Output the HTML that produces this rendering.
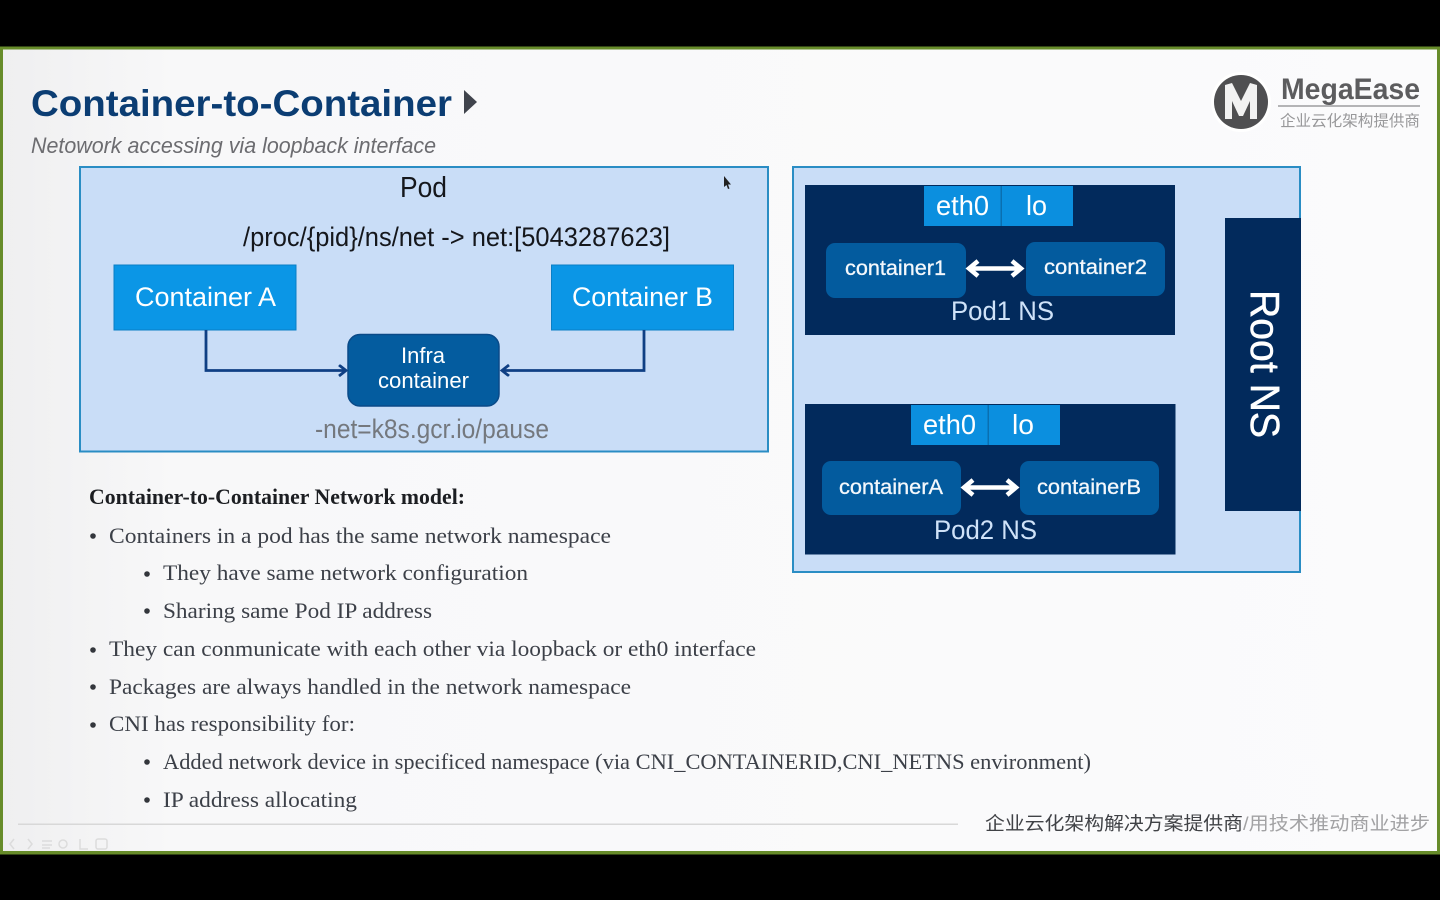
<!DOCTYPE html>
<html><head><meta charset="utf-8"><style>
html,body{margin:0;padding:0;background:#000;width:1440px;height:900px;overflow:hidden}
svg{display:block}
text{font-family:"Liberation Sans","Noto Sans CJK SC",sans-serif}
.b{font-family:"Liberation Serif","DejaVu Serif",serif;font-size:22px;fill:#3c4048}
.w{fill:#fff}
.l{fill:#cfe2f8}
</style></head><body>
<svg width="1440" height="900" viewBox="0 0 1440 900" xmlns="http://www.w3.org/2000/svg">
<defs>
<linearGradient id="bg" x1="0" y1="0" x2="1" y2="0"><stop offset="0" stop-color="#efeff0"/><stop offset=".12" stop-color="#f8f8f9"/><stop offset="1" stop-color="#fbfbfc"/></linearGradient>
<marker id="ah" markerWidth="12" markerHeight="14" refX="9" refY="6" orient="auto" markerUnits="userSpaceOnUse"><path d="M2 0.5L9 6L2 11.5" fill="none" stroke="#0f3f84" stroke-width="2.8"/></marker>
</defs>
<rect width="1440" height="900" fill="#000"/>
<rect x="0" y="46.500" width="1440" height="808" fill="#678c2a"/>
<rect x="3" y="49.500" width="1434" height="801.500" fill="url(#bg)"/>
<text x="31" y="116" font-size="37" font-weight="700" fill="#0b3d73" textLength="421" lengthAdjust="spacingAndGlyphs">Container-to-Container</text>
<path d="M464 90L477 102L464 114Z" fill="#40444c"/>
<text x="31" y="153" font-size="22" font-style="italic" fill="#6c6c70" textLength="405" lengthAdjust="spacingAndGlyphs">Netowork accessing via loopback interface</text>
<circle cx="1241" cy="102" r="30" fill="#fff"/>
<circle cx="1241" cy="102" r="27" fill="#4f4f51"/>
<path d="M1225 85L1232 83L1241 101L1250 83L1257 85V119H1250V101L1243 116H1239L1232 101V119H1225Z" fill="#f2f2f2"/>
<text x="1281" y="99" font-size="30" font-weight="700" fill="#5c5c5e" textLength="139" lengthAdjust="spacingAndGlyphs">MegaEase</text>
<rect x="1278" y="105" width="142" height="2" fill="#b4b4b6"/>
<text x="1280" y="126" font-size="15.5" fill="#98989a" textLength="140" lengthAdjust="spacingAndGlyphs">企业云化架构提供商</text>

<rect x="80" y="167" width="688" height="284.500" fill="#c9ddf7" stroke="#2a8dc4" stroke-width="2"/>
<text x="400" y="197" font-size="29" fill="#15171c" textLength="47" lengthAdjust="spacingAndGlyphs">Pod</text>
<text x="243" y="246" font-size="27" fill="#15171c" textLength="427" lengthAdjust="spacingAndGlyphs">/proc/{pid}/ns/net -&gt; net:[5043287623]</text>
<rect x="114" y="265" width="182" height="65" fill="#0b96e6" stroke="#0a7fc6"/>
<rect x="551.500" y="265" width="182" height="65" fill="#0b96e6" stroke="#0a7fc6"/>
<text x="135" y="306" font-size="27" class="w" textLength="141" lengthAdjust="spacingAndGlyphs">Container A</text>
<text x="572" y="306" font-size="27" class="w" textLength="141" lengthAdjust="spacingAndGlyphs">Container B</text>
<path d="M206 330V370.500H346" fill="none" stroke="#0f3f84" stroke-width="2.800" marker-end="url(#ah)"/>
<path d="M644 330V370.500H502" fill="none" stroke="#0f3f84" stroke-width="2.800" marker-end="url(#ah)"/>
<rect x="348" y="334.500" width="151" height="71.500" rx="12" fill="#045c9f" stroke="#0a4a88" stroke-width="1.500"/>
<text x="401" y="363" font-size="22" class="w" textLength="44" lengthAdjust="spacingAndGlyphs">Infra</text>
<text x="378" y="388" font-size="22" class="w" textLength="91" lengthAdjust="spacingAndGlyphs">container</text>
<text x="315" y="438" font-size="27" fill="#74787e" textLength="234" lengthAdjust="spacingAndGlyphs">-net=k8s.gcr.io/pause</text>

<rect x="793" y="167" width="507" height="405" fill="#c9ddf7" stroke="#2a8dc4" stroke-width="2"/>
<rect x="805" y="185" width="370" height="150" fill="#022a5c"/>
<rect x="924" y="186" width="149" height="40" fill="#0b8fdf"/>
<rect x="1000.500" y="186" width="1.500" height="40" fill="#0a6fb0"/>
<text x="936" y="215" font-size="28" class="w" textLength="53" lengthAdjust="spacingAndGlyphs">eth0</text>
<text x="1026" y="215" font-size="28" class="w" textLength="21" lengthAdjust="spacingAndGlyphs">lo</text>
<rect x="826" y="243" width="140" height="55" rx="9" fill="#035b9e"/>
<rect x="1026" y="242" width="139" height="54" rx="9" fill="#035b9e"/>
<text x="845" y="275" font-size="21.500" fill="#f4f8fc" textLength="101" lengthAdjust="spacingAndGlyphs" style="stroke:#f4f8fc;stroke-width:.3">container1</text>
<text x="1044" y="274" font-size="21.500" fill="#f4f8fc" textLength="103" lengthAdjust="spacingAndGlyphs" style="stroke:#f4f8fc;stroke-width:.3">container2</text>
<path d="M971 268.500H1019M978 261L969 268.500L978 276M1012 261L1021 268.500L1012 276" fill="none" stroke="#fff" stroke-width="4.500"/>
<text x="951" y="320" font-size="27" class="l" textLength="103" lengthAdjust="spacingAndGlyphs">Pod1 NS</text>

<rect x="805" y="404" width="370.500" height="150.500" fill="#022a5c"/>
<rect x="911" y="405" width="149" height="40" fill="#0b8fdf"/>
<rect x="987.500" y="405" width="1.500" height="40" fill="#0a6fb0"/>
<text x="923" y="434" font-size="28" class="w" textLength="53" lengthAdjust="spacingAndGlyphs">eth0</text>
<text x="1012" y="434" font-size="28" class="w" textLength="22" lengthAdjust="spacingAndGlyphs">lo</text>
<rect x="822" y="461" width="139" height="54" rx="9" fill="#035b9e"/>
<rect x="1020" y="461" width="139" height="54" rx="9" fill="#035b9e"/>
<text x="839" y="494" font-size="21.500" fill="#f4f8fc" textLength="104" lengthAdjust="spacingAndGlyphs" style="stroke:#f4f8fc;stroke-width:.3">containerA</text>
<text x="1037" y="494" font-size="21.500" fill="#f4f8fc" textLength="104" lengthAdjust="spacingAndGlyphs" style="stroke:#f4f8fc;stroke-width:.3">containerB</text>
<path d="M966 487.500H1014M973 480L964 487.500L973 495M1007 480L1016 487.500L1007 495" fill="none" stroke="#fff" stroke-width="4.500"/>
<text x="934" y="539" font-size="27" class="l" textLength="103" lengthAdjust="spacingAndGlyphs">Pod2 NS</text>

<rect x="1225" y="218" width="76" height="293" fill="#022a5c"/>
<text transform="translate(1251,290) rotate(90)" font-size="41" class="w" textLength="148" lengthAdjust="spacingAndGlyphs" style="stroke:#fff;stroke-width:.5">Root NS</text>

<text x="89" y="504" font-size="22" font-weight="700" fill="#1c1e22" style="font-family:'Liberation Serif',serif" textLength="376" lengthAdjust="spacingAndGlyphs">Container-to-Container Network model:</text>
<g fill="#33363c">
<circle cx="93" cy="536" r="2.800"/><circle cx="147" cy="574" r="2.800"/><circle cx="147" cy="611" r="2.800"/>
<circle cx="93" cy="650" r="2.800"/><circle cx="93" cy="687" r="2.800"/><circle cx="93" cy="725" r="2.800"/>
<circle cx="147" cy="762" r="2.800"/><circle cx="147" cy="800" r="2.800"/>
</g>
<text class="b" x="109" y="543" textLength="502" lengthAdjust="spacingAndGlyphs">Containers in a pod has the same network namespace</text>
<text class="b" x="163" y="580" textLength="365" lengthAdjust="spacingAndGlyphs">They have same network configuration</text>
<text class="b" x="163" y="618" textLength="269" lengthAdjust="spacingAndGlyphs">Sharing same Pod IP address</text>
<text class="b" x="109" y="656" textLength="647" lengthAdjust="spacingAndGlyphs">They can conmunicate with each other via loopback or eth0 interface</text>
<text class="b" x="109" y="694" textLength="522" lengthAdjust="spacingAndGlyphs">Packages are always handled in the network namespace</text>
<text class="b" x="109" y="731" textLength="246" lengthAdjust="spacingAndGlyphs">CNI has responsibility for:</text>
<text class="b" x="163" y="769" textLength="928" lengthAdjust="spacingAndGlyphs">Added network device in specificed namespace (via CNI_CONTAINERID,CNI_NETNS environment)</text>
<text class="b" x="163" y="807" textLength="194" lengthAdjust="spacingAndGlyphs">IP address allocating</text>

<rect x="18" y="823.500" width="940" height="1.500" fill="#d8d8d8"/>
<text x="985" y="830" font-size="18.500" fill="#404246" textLength="258" lengthAdjust="spacingAndGlyphs">企业云化架构解决方案提供商</text>
<text x="1243" y="830" font-size="18.500" fill="#a2a2a4" textLength="187" lengthAdjust="spacingAndGlyphs">/用技术推动商业进步</text>
<g fill="none" stroke="#dcdcdc" stroke-width="1.500"><path d="M14 839L10 844L14 849M28 839L32 844L28 849"/><path d="M42 841H52M42 845H52M42 848H50"/><circle cx="63" cy="844" r="4"/><path d="M80 839V849H88"/><rect x="96" y="839" width="11" height="10" rx="2"/></g>
<path d="M724 176V187L726.500 185L728 189L729.500 188.500L728 184.500L731 184.500Z" fill="#222"/>
</svg>
</body></html>
